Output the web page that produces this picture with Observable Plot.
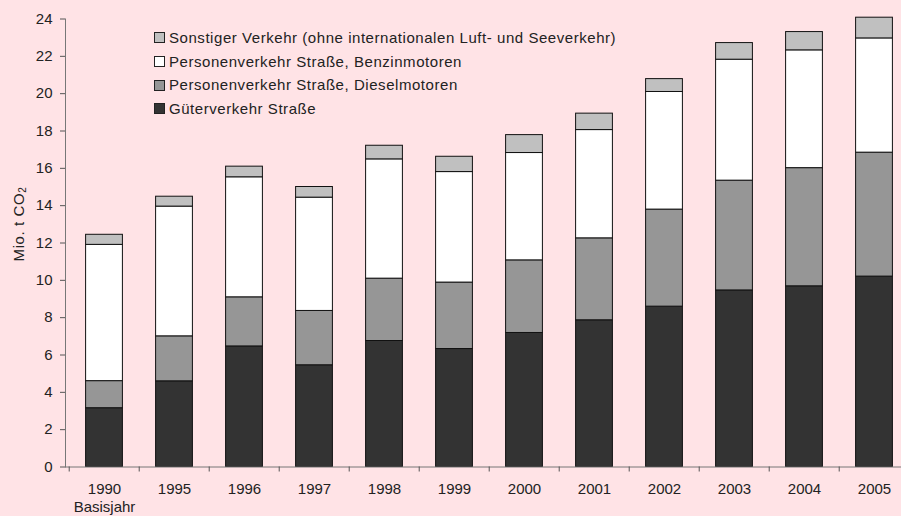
<!DOCTYPE html>
<html>
<head>
<meta charset="utf-8">
<script src="https://cdn.jsdelivr.net/npm/d3@7"></script>
<script src="https://cdn.jsdelivr.net/npm/@observablehq/plot@0.6"></script>
<style>
  html, body { margin: 0; padding: 0; background: #ffe3e6; overflow: hidden; }
  #wrap { position: relative; width: 901px; height: 516px; font-family: "Liberation Sans", Arial, sans-serif; color: #222; }
  #wrap svg { overflow: hidden; }
  .legend { position: absolute; left: 154px; top: 26px; font-size: 15px; line-height: 23.7px; letter-spacing: 0.55px; }
  .legend .row { display: flex; align-items: center; white-space: nowrap; }
  .legend .sw { width: 9px; height: 9px; border: 1px solid #222; margin-right: 4px; box-sizing: content-box; }
  .ylab { position: absolute; left: 18px; top: 224px; transform: translate(-50%, -50%) rotate(-90deg); font-size: 15px; letter-spacing: 0.6px; white-space: nowrap; }
  .ylab sub { font-size: 10px; vertical-align: -2px; line-height: 0; }
</style>
</head>
<body>
<div id="wrap"></div>
<script>
const years = ["1990","1995","1996","1997","1998","1999","2000","2001","2002","2003","2004","2005"];
const gueter   = [3.15, 4.59, 6.46, 5.45, 6.75, 6.32, 7.18, 7.86, 8.59, 9.46, 9.68, 10.20];
const diesel   = [1.45, 2.41, 2.63, 2.91, 3.34, 3.56, 3.89, 4.39, 5.20, 5.88, 6.33, 6.64];
const benzin   = [7.30, 6.95, 6.43, 6.07, 6.39, 5.92, 5.75, 5.80, 6.30, 6.48, 6.31, 6.12];
const sonstige = [0.54, 0.53, 0.57, 0.57, 0.73, 0.82, 0.96, 0.88, 0.69, 0.89, 0.98, 1.11];
const seriesNames = [
  "Güterverkehr Straße",
  "Personenverkehr Straße, Dieselmotoren",
  "Personenverkehr Straße, Benzinmotoren",
  "Sonstiger Verkehr (ohne internationalen Luft- und Seeverkehr)"
];
const seriesColors = ["#333333", "#969696", "#ffffff", "#c0c0c0"];
const yTicks = [0,2,4,6,8,10,12,14,16,18,20,22,24];
const yLabelMain = "Mio. t CO";
const yLabelSub = "2";
const baseYearNote = "Basisjahr";

const seriesValues = [gueter, diesel, benzin, sonstige];
const data = [];
seriesNames.forEach((s, i) => years.forEach((y, j) => data.push({year: y, series: s, value: seriesValues[i][j]})));

const xRange = [65, 912];
const step = (xRange[1] - xRange[0]) / years.length;

const chart = Plot.plot({
  width: 901,
  height: 516,
  marginLeft: 65,
  marginRight: 0,
  marginTop: 18.5,
  marginBottom: 49.5,
  style: {background: "transparent", fontFamily: "Liberation Sans, Arial, sans-serif", fontSize: "15px", color: "#222"},
  x: {type: "band", domain: years, range: xRange, padding: 0},
  y: {domain: [0, 24]},
  color: {domain: seriesNames, range: seriesColors},
  marks: [
    Plot.barY(data, Plot.stackY({x: "year", y: "value", fill: "series", z: "series", order: seriesNames,
      stroke: "#111", strokeWidth: 1, insetLeft: 16.6, insetRight: 16.6})),
    Plot.frame({anchor: "left", stroke: "#777"}),
    Plot.frame({anchor: "bottom", stroke: "#777"}),
    Plot.axisY({ticks: yTicks, tickSize: 5, tickPadding: 8, label: null, stroke: "#555", fontSize: 15}),
    Plot.axisX({tickSize: 5, tickFormat: () => "", dx: -step / 2, label: null, stroke: "#555"}),
    Plot.axisX({tickSize: 0, tickPadding: 14, label: null, fontSize: 15, lineHeight: 1.2,
      tickFormat: d => d === years[0] ? d + "\n" + baseYearNote : d})
  ]
});

const wrap = document.getElementById("wrap");
wrap.appendChild(chart);

const legend = document.createElement("div");
legend.className = "legend";
[3, 2, 1, 0].forEach(i => {
  const row = document.createElement("div");
  row.className = "row";
  const sw = document.createElement("span");
  sw.className = "sw";
  sw.style.background = seriesColors[i];
  const t = document.createElement("span");
  t.textContent = seriesNames[i];
  row.appendChild(sw); row.appendChild(t);
  legend.appendChild(row);
});
wrap.appendChild(legend);

const yl = document.createElement("div");
yl.className = "ylab";
yl.appendChild(document.createTextNode(yLabelMain));
const sub = document.createElement("sub");
sub.textContent = yLabelSub;
yl.appendChild(sub);
wrap.appendChild(yl);
</script>
</body>
</html>
